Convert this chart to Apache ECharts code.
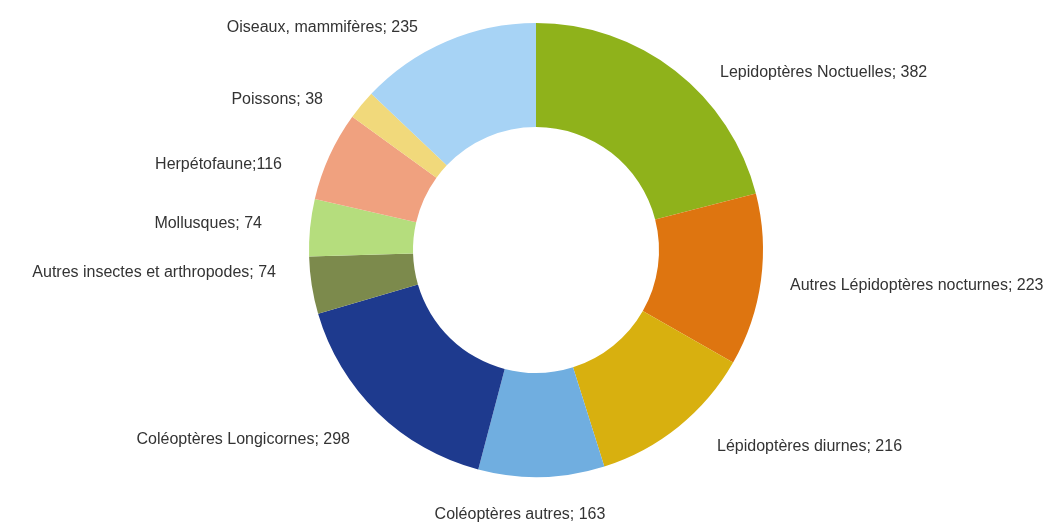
<!DOCTYPE html>
<html>
<head>
<meta charset="utf-8">
<script src="https://cdn.jsdelivr.net/npm/echarts@6/dist/echarts.min.js"></script>
<style>
  html, body { margin: 0; padding: 0; background: #fff; }
  #chart { width: 1043px; height: 524px; }
</style>
</head>
<body>
<div id="chart"></div>
<script>
// groupes et nombre d'especes
const names = [
  'Lepidoptères Noctuelles',
  'Autres Lépidoptères nocturnes',
  'Lépidoptères diurnes',
  'Coléoptères autres',
  'Coléoptères Longicornes',
  'Autres insectes et arthropodes',
  'Mollusques',
  'Herpétofaune',
  'Poissons',
  'Oiseaux, mammifères'
]
const values = [382, 223, 216, 163, 298, 74, 74, 116, 38, 235]
const colors = ['#8fb21b', '#de7510', '#d8b00f', '#70aee0', '#1e3a8e', '#7c8a4c', '#b5dd7d', '#f0a17f', '#f1d97b', '#a7d3f5']
// Herpétofaune has no space after the semicolon in the original
const seps = ['; ', '; ', '; ', '; ', '; ', '; ', '; ', ';', '; ', '; ']

// where the original puts each label (x, y, anchor)
const labelSpots = [
  [720, 73, 'left'],
  [790, 286, 'left'],
  [717, 447, 'left'],
  [520, 515, 'center'],
  [350, 440, 'right'],
  [276, 273, 'right'],
  [262, 224, 'right'],
  [282, 165, 'right'],
  [323, 100, 'right'],
  [418, 28, 'right']
]

const chart = echarts.init(document.getElementById('chart'))
chart.setOption({
  backgroundColor: '#fff',
  animation: false,
  series: [{
    type: 'pie',
    center: [536, 250],
    radius: [123, 227],
    startAngle: 90,
    clockwise: true,
    avoidLabelOverlap: false,
    data: names.map((n, i) => ({
      name: n,
      value: values[i],
      itemStyle: { color: colors[i] },
      label: { formatter: n + seps[i] + values[i] }
    })),
    label: {
      show: true,
      position: 'outside',
      fontFamily: 'Liberation Sans, Arial, sans-serif',
      fontSize: 16,
      color: '#333'
    },
    labelLine: { show: false },
    labelLayout: function (p) {
      const s = labelSpots[p.dataIndex]
      return { x: s[0], y: s[1], align: s[2], verticalAlign: 'middle' }
    }
  }]
})
</script>
</body>
</html>
